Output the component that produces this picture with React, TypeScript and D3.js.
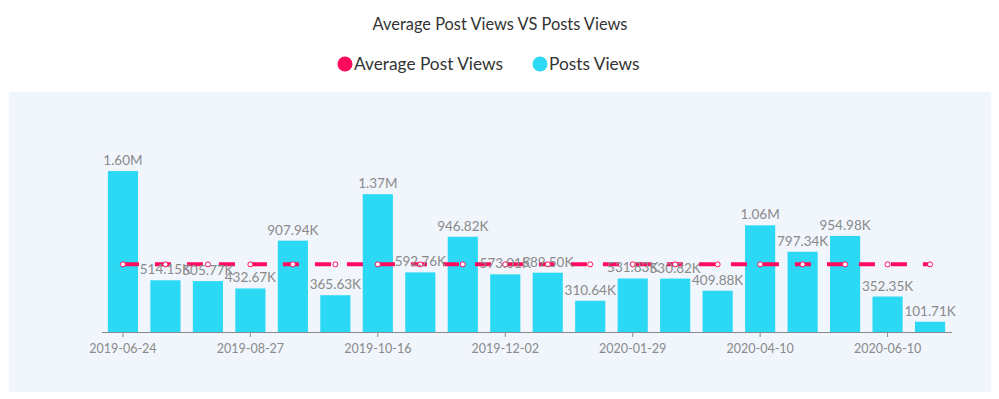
import React, { useEffect, useRef } from 'react';
import * as d3 from 'd3';

const dates = [
  '2019-06-24', '2019-07-15', '2019-08-05', '2019-08-27', '2019-09-10', '2019-09-30',
  '2019-10-16', '2019-10-30', '2019-11-15', '2019-12-02', '2019-12-18', '2020-01-08',
  '2020-01-29', '2020-02-20', '2020-03-15', '2020-04-10', '2020-04-28', '2020-05-20',
  '2020-06-10', '2020-06-28',
];

const postsViews = [
  1600000, 514150, 505770, 432670, 907940, 365630, 1370000, 592760, 946820, 573010,
  589500, 310640, 531830, 530820, 409880, 1060000, 797340, 954980, 352350, 101710,
];

const averageViews = [
  672390, 672390, 672390, 672390, 672390, 672390, 672390, 672390, 672390, 672390,
  672390, 672390, 672390, 672390, 672390, 672390, 672390, 672390, 672390, 672390,
];

const PINK = '#ff0a5e';
const CYAN = '#2cd9f5';
const FONT = 'Lato, sans-serif';

const fmt = (v: number) => (v >= 1e6 ? (v / 1e6).toFixed(2) + 'M' : (v / 1e3).toFixed(2) + 'K');

const App = () => {
  const svgRef = useRef<SVGSVGElement>(null);

  useEffect(() => {
    const svg = d3.select(svgRef.current);
    svg.selectAll('*').remove();

    // panel background
    svg.append('rect')
      .attr('x', 9).attr('y', 92)
      .attr('width', 982).attr('height', 300)
      .attr('fill', '#f1f5fc');

    // title
    svg.append('text')
      .attr('x', 500).attr('y', 30)
      .attr('text-anchor', 'middle')
      .attr('font-family', FONT)
      .attr('font-size', 16.4)
      .attr('fill', '#333')
      .text('Average Post Views VS Posts Views');

    // legend
    const legend = [
      { name: 'Average Post Views', color: PINK, x: 345 },
      { name: 'Posts Views', color: CYAN, x: 540 },
    ];
    legend.forEach(l => {
      svg.append('circle').attr('cx', l.x).attr('cy', 64).attr('r', 7.5).attr('fill', l.color);
      svg.append('text')
        .attr('x', l.x + 9).attr('y', 70)
        .attr('font-family', FONT)
        .attr('font-size', 17.3)
        .attr('fill', '#333')
        .text(l.name);
    });

    const x = d3.scaleBand().domain(dates).range([101.5, 951.5]).paddingInner(0.29).paddingOuter(0.15);
    const y = d3.scaleLinear().domain([0, 2000000]).range([332, 130.8]);

    // bars
    svg.append('g')
      .selectAll('rect')
      .data(postsViews)
      .join('rect')
      .attr('x', (d, i) => x(dates[i])!)
      .attr('y', d => y(d))
      .attr('width', x.bandwidth())
      .attr('height', d => y(0) - y(d))
      .attr('fill', CYAN);

    // x axis
    const axis = svg.append('g')
      .attr('transform', `translate(0,${y(0)})`)
      .call(
        d3.axisBottom(x)
          .tickValues(dates.filter((d, i) => i % 3 === 0))
          .tickSize(5)
          .tickSizeOuter(0)
      );
    axis.select('.domain').attr('stroke', '#8a8a8a');
    axis.selectAll('.tick line').attr('stroke', '#8a8a8a');
    axis.selectAll('.tick text')
      .attr('font-family', FONT)
      .attr('font-size', 12.5)
      .attr('fill', '#8a8a8a')
      .attr('dy', '1.05em');

    // average line
    const cx = (i: number) => x(dates[i])! + x.bandwidth() / 2;
    const line = d3.line<number>().x((d, i) => cx(i)).y(d => y(d));
    svg.append('path')
      .datum(averageViews)
      .attr('fill', 'none')
      .attr('stroke', PINK)
      .attr('stroke-width', 4)
      .attr('stroke-dasharray', '16,16')
      .attr('d', line);
    svg.append('g')
      .selectAll('circle')
      .data(averageViews)
      .join('circle')
      .attr('cx', (d, i) => cx(i))
      .attr('cy', d => y(d))
      .attr('r', 2.5)
      .attr('fill', '#fff')
      .attr('stroke', PINK)
      .attr('stroke-width', 1);

    // bar labels
    svg.append('g')
      .selectAll('text')
      .data(postsViews)
      .join('text')
      .attr('x', (d, i) => cx(i))
      .attr('y', d => y(d) - 6)
      .attr('text-anchor', 'middle')
      .attr('font-family', FONT)
      .attr('font-size', 13.5)
      .attr('fill', '#8a8a8a')
      .text(d => fmt(d));
  }, []);

  return (
    <svg
      ref={svgRef}
      width={999}
      height={399}
      style={{ position: 'absolute', left: 0, top: 0, display: 'block', background: '#fff' }}
    />
  );
};

export default App;
